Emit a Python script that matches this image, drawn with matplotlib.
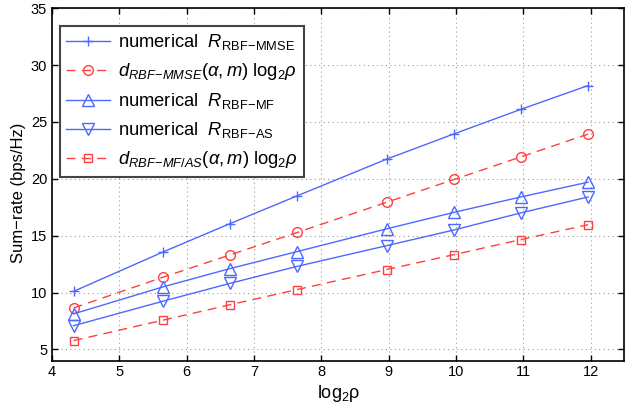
import matplotlib
matplotlib.use("Agg")
import matplotlib.pyplot as plt

plt.rcParams['font.family'] = ['Liberation Sans', 'DejaVu Sans']
plt.rcParams['mathtext.fontset'] = 'custom'
plt.rcParams['mathtext.rm'] = 'Liberation Sans'
plt.rcParams['mathtext.it'] = 'Liberation Sans:italic'
plt.rcParams['mathtext.bf'] = 'Liberation Sans:bold'

# data
log2rho = [4.32, 5.65, 6.64, 7.64, 8.97, 9.97, 10.96, 11.96]
rate_mmse_num = [10.1, 13.57, 16.05, 18.5, 21.73, 23.95, 26.1, 28.2]
rate_mmse_dof = [8.64, 11.35, 13.3, 15.28, 17.94, 19.94, 21.92, 23.93]
rate_mf_num = [8.12, 10.5, 12.1, 13.6, 15.6, 17.05, 18.4, 19.7]
rate_as_num = [7.08, 9.24, 10.8, 12.3, 14.12, 15.5, 17.0, 18.4]
rate_mfas_dof = [5.77, 7.57, 8.92, 10.26, 12.02, 13.33, 14.65, 15.96]

labels = [
    r"numerical  $R_{\mathrm{RBF\!-\!MMSE}}$",
    r"$d_{RBF\!-\!MMSE}(\alpha,m)\ \mathrm{log}_2\rho$",
    r"numerical  $R_{\mathrm{RBF\!-\!MF}}$",
    r"numerical  $R_{\mathrm{RBF\!-\!AS}}$",
    r"$d_{RBF\!-\!MF/AS}(\alpha,m)\ \mathrm{log}_2\rho$",
]
xticks = [4, 5, 6, 7, 8, 9, 10, 11, 12]
yticks = [5, 10, 15, 20, 25, 30, 35]

blue = '#4d68ff'
red = '#ff4040'
dash = (6.5, 4.5)

fig = plt.figure(figsize=(6.27, 4.09), dpi=100)
ax = fig.add_axes([0.083, 0.118, 0.913, 0.862])

ax.plot(log2rho, rate_mmse_num, color=blue, lw=1.0, marker='+', ms=7.5, mew=1.0, label=labels[0])
ax.plot(log2rho, rate_mmse_dof, color=red, lw=1.0, ls=(0, dash), marker='o', ms=7, mfc='none', mew=1.0, label=labels[1])
ax.plot(log2rho, rate_mf_num, color=blue, lw=1.0, marker='^', ms=8, mfc='none', mew=1.0, label=labels[2])
ax.plot(log2rho, rate_as_num, color=blue, lw=1.0, marker='v', ms=8, mfc='none', mew=1.0, label=labels[3])
ax.plot(log2rho, rate_mfas_dof, color=red, lw=1.0, ls=(0, dash), marker='s', ms=6, mfc='none', mew=1.0, label=labels[4])

ax.set_xlim(4, 12.5)
ax.set_ylim(4, 35)
ax.set_xticks(xticks)
ax.set_yticks(yticks)
ax.tick_params(direction='in', top=True, right=True, labelsize=10.5, length=4, width=1)
ax.tick_params(axis='x', pad=3)
ax.tick_params(axis='y', pad=3.5)
ax.grid(True, ls=(0, (1, 3)), color='#9a9a9a', lw=0.8)
for s in ax.spines.values():
    s.set_linewidth(1.2)

ax.set_xlabel(r"log$_2$ρ", fontsize=13)
ax.set_ylabel("Sum−rate (bps/Hz)", fontsize=12)
ax.xaxis.set_label_coords(0.5, -0.062)
ax.yaxis.set_label_coords(-0.046, 0.476)

leg = ax.legend(loc='upper left', bbox_to_anchor=(0.014, 0.950), fontsize=13.2, handlelength=2.4,
                handletextpad=0.4, labelspacing=0.49, borderpad=0.35, borderaxespad=0.0,
                fancybox=False, framealpha=1, edgecolor='#444444')
leg.get_frame().set_linewidth(1.5)

fig.savefig("out.png", dpi=100)
